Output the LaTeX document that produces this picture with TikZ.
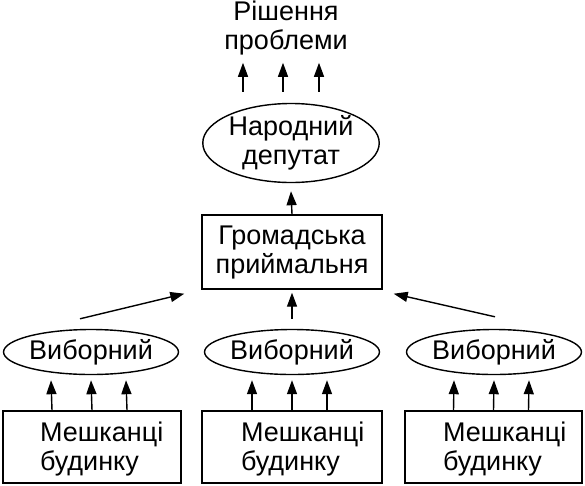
\documentclass[tikz,border=0pt]{standalone}
\usepackage{fontspec}
\setmainfont{Liberation Sans}
\usetikzlibrary{shapes.geometric,arrows.meta}
\begin{document}
\begin{tikzpicture}[x=1pt,y=-1pt,line width=1.4pt,
  txt/.style={font=\fontsize{27}{29}\selectfont,inner sep=0pt,align=center},
  box/.style={draw,rectangle,inner sep=0pt,minimum height=72pt},
  oval/.style={draw,ellipse,inner sep=0pt,minimum width=165pt},
  arr/.style={-{Triangle[length=14pt,width=10pt]}}]
\useasboundingbox (0,0) rectangle (585,485);
% nodes
\node[txt] (t) at (286,28) {Рішення\\проблеми};
\node[oval,txt,minimum height=79pt] (d) at (291,143) {Народний\\депутат};
\node[box,txt,minimum width=180pt,minimum height=74pt] (g) at (292,252) {Громадська\\приймальня};
\node[oval,txt,minimum height=45pt] (v1) at (91,352) {Виборний};
\node[oval,txt,minimum height=45pt] (v2) at (292,352) {Виборний};
\node[oval,txt,minimum height=45pt] (v3) at (494,352) {Виборний};
\node[box,minimum width=178pt] (m1) at (92,447) {};
\node[box,minimum width=180pt] (m2) at (292,447) {};
\node[box,minimum width=177pt] (m3) at (493.5,447) {};
\node[txt,align=left,anchor=west] (k1) at ([xshift=37pt,yshift=-2pt]m1.west) {Мешканці\\будинку};
\node[txt,align=left,anchor=west] (k2) at ([xshift=39pt,yshift=-2pt]m2.west) {Мешканці\\будинку};
\node[txt,align=left,anchor=west] (k3) at ([xshift=38pt,yshift=-2pt]m3.west) {Мешканці\\будинку};
% arrows to the top
\foreach \dx in {-48,-8,28}
  \draw[arr] ([xshift=\dx pt,yshift=11pt]d.north) -- ([xshift=\dx pt,yshift=40pt]d.north);
\draw[arr] (g.north) -- ([yshift=-8pt]d.south);
\draw[arr] ([yshift=10pt]v2.north) -- ([yshift=-3pt]g.south);
\draw[arr] ([xshift=-11pt,yshift=10pt]v1.north) -- ([xshift=-17pt,yshift=-4pt]g.south west);
\draw[arr] ([xshift=1pt,yshift=12pt]v3.north) -- ([xshift=11pt,yshift=-4pt]g.south east);
% arrows from residents
\foreach \m/\v in {m1/v1,m2/v2,m3/v3}
  \foreach \dx in {-40,0,35}
    \draw[arr] ([xshift=\dx pt]\m.north) -- ([xshift=\dx pt,yshift=-5pt]\v.south);
\end{tikzpicture}
\end{document}
